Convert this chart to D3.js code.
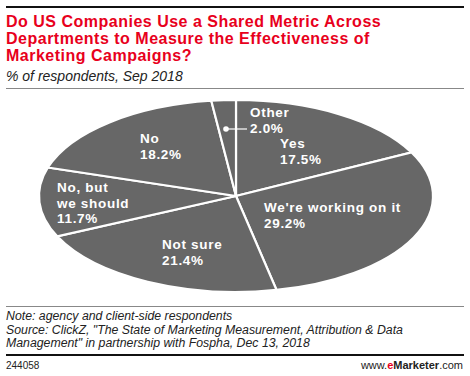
<!DOCTYPE html>
<html><head><meta charset="utf-8">
<script src="https://cdn.jsdelivr.net/npm/d3@7"></script>
<style>body{margin:0;background:#fff}svg{display:block}</style>
</head><body>
<script>
const categories = ["Yes", "We're working on it", "Not sure", "No, but we should", "No", "Other"];
const values = [17.5, 29.2, 21.4, 11.7, 18.2, 2.0];
const labelLines = [["Yes","17.5%"],["We're working on it","29.2%"],["Not sure","21.4%"],["No, but","we should","11.7%"],["No","18.2%"],["Other","2.0%"]];
const titleLines = ["Do US Companies Use a Shared Metric Across","Departments to Measure the Effectiveness of","Marketing Campaigns?"];
const subtitle = "% of respondents, Sep 2018";
const noteLines = ["Note: agency and client-side respondents","Source: ClickZ, \"The State of Marketing Measurement, Attribution & Data","Management\" in partnership with Fospha, Dec 13, 2018"];
const chartId = "244058";

const W = 470, H = 376;
const svg = d3.select("body").append("svg").attr("width", W).attr("height", H);
const font = "'Liberation Sans', Arial, sans-serif";

svg.append("rect").attr("x",6).attr("y",6).attr("width",458).attr("height",2).attr("fill","#111");
svg.append("g").selectAll("text").data(titleLines).join("text")
  .attr("x",6).attr("y",(d,i)=>27+i*17).text(d=>d)
  .attr("font-family",font).attr("font-weight","bold").attr("font-size",16)
  .attr("letter-spacing",0.5).attr("fill","#e8001c");
svg.append("text").attr("x",6).attr("y",81).text(subtitle)
  .attr("font-family",font).attr("font-style","italic").attr("font-size",14).attr("fill","#222");
svg.append("rect").attr("x",6).attr("y",88).attr("width",458).attr("height",1).attr("fill","#888");

// Pie
const cx = 236, cy = 196, rx = 197, ry = 96, R = 100;
const pie = d3.pie().sort(null).value(d=>d)(values);
const arc = d3.arc().innerRadius(0).outerRadius(R);
const pg = svg.append("g").attr("transform",`translate(${cx},${cy}) scale(${rx/R},${ry/R})`);
pg.selectAll("path").data(pie).join("path").attr("d",arc)
  .attr("fill","#676767").attr("stroke","#fff").attr("stroke-width",2.2)
  .attr("vector-effect","non-scaling-stroke");

const labelPos = [[280,148],[264,212],[162,249],[57,192],[140,143],[250,117]];
const lg = svg.append("g");
labelLines.forEach((lines,i)=>{
  const t = lg.append("text").attr("x",labelPos[i][0]).attr("y",labelPos[i][1])
    .attr("font-family",font).attr("font-weight","bold").attr("font-size",13.5)
    .attr("letter-spacing",0.7).attr("fill","#fff");
  lines.forEach((l,j)=>t.append("tspan").attr("x",labelPos[i][0]).attr("dy", j===0?0:15.5).text(l));
});
// leader for Other
svg.append("circle").attr("cx",226).attr("cy",129).attr("r",2.8).attr("fill","#fff");
svg.append("line").attr("x1",226).attr("y1",129).attr("x2",247).attr("y2",129).attr("stroke","#fff").attr("stroke-width",1.2);

// Footer
svg.append("rect").attr("x",6).attr("y",306).attr("width",458).attr("height",1).attr("fill","#888");
svg.append("g").selectAll("text").data(noteLines).join("text")
  .attr("x",6).attr("y",(d,i)=>320+i*13.5).text(d=>d)
  .attr("font-family",font).attr("font-style","italic").attr("font-size",12.3).attr("fill","#222");
svg.append("rect").attr("x",6).attr("y",354).attr("width",458).attr("height",2).attr("fill","#111");
svg.append("text").attr("x",6).attr("y",369).text(chartId)
  .attr("font-family",font).attr("font-size",10).attr("fill","#222");
const logo = svg.append("text").attr("x",463).attr("y",369).attr("text-anchor","end")
  .attr("font-family",font).attr("font-size",11).attr("fill","#222");
logo.append("tspan").text("www.");
logo.append("tspan").text("e").attr("fill","#e8001c").attr("font-weight","bold");
logo.append("tspan").text("Marketer").attr("font-weight","bold");
logo.append("tspan").text(".com");
</script>
</body></html>
